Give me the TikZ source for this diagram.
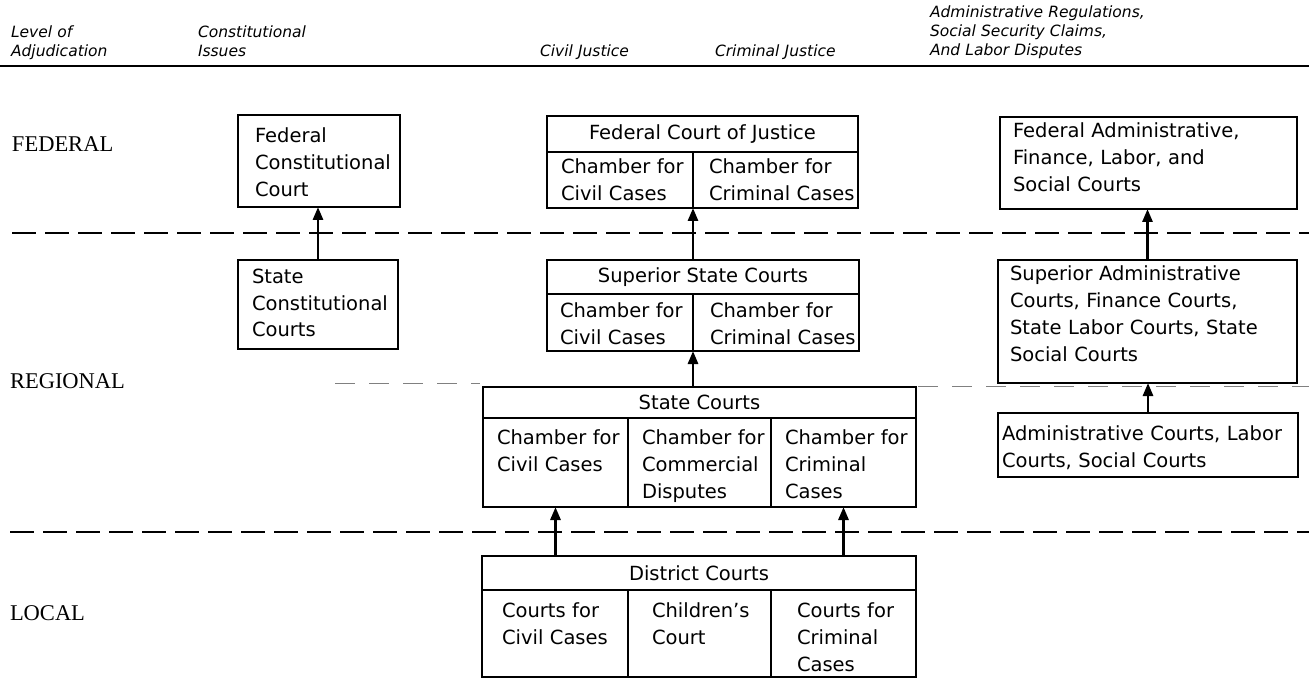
\documentclass[tikz,border=0pt]{standalone}
\usepackage{fontspec}
\setmainfont{DejaVu Sans}
\newfontfamily\lvlfamily{Liberation Serif}
\usetikzlibrary{arrows.meta,calc}
\newcommand\bodyfnt{\fontsize{19.5}{27}\selectfont}
\newcommand\headfnt{\itshape\fontsize{15.5}{19}\selectfont}
\newcommand\levelfnt{\lvlfamily\fontsize{22.5}{26}\selectfont}
\begin{document}
\begin{tikzpicture}[x=1pt,y=-1pt,
  box/.style={draw, line width=2.6pt, rectangle, inner sep=0pt, outer sep=0pt, anchor=north west, font=\bodyfnt},
  txt/.style={anchor=base west, inner sep=0pt, outer sep=0pt, font=\bodyfnt, text width=300pt, align=left},
  hdr/.style={anchor=base west, inner sep=0pt, outer sep=0pt, font=\headfnt, text width=300pt, align=left},
  lvl/.style={anchor=base west, inner sep=0pt, outer sep=0pt, font=\levelfnt},
  arr/.style={line width=2.8pt, -{Triangle[length=13pt,width=10pt]}},
  rule/.style={line width=2.2pt},
  divider/.style={line width=2.2pt, dash pattern=on 24pt off 9pt},
  faint/.style={line width=1pt, gray, dash pattern=on 20pt off 14pt}]
\useasboundingbox (0,0) rectangle (1309,679);

% headers
\node[hdr] (hLevel) at (11,38) {Level of\\Adjudication};
\node[hdr] (hConst) at (198,38) {Constitutional\\Issues};
\node[hdr] (hCivil) at (540,57) {Civil Justice};
\node[hdr] (hCrim) at (715,57) {Criminal Justice};
\node[hdr] (hAdmin) at (930,18) {Administrative Regulations,\\Social Security Claims,\\And Labor Disputes};

% rules
\draw[rule] (0,66) -- (1309,66);
\draw[divider] (12,233) -- (1309,233);
\draw[divider] (10,532) -- (1309,532);
\draw[faint] (335,383) -- (480,383);
\draw[faint] (918,386) -- (1309,386);

% level labels
\node[lvl] (lFed) at (12,152) {FEDERAL};
\node[lvl] (lReg) at (10,388) {REGIONAL};
\node[lvl] (lLoc) at (10,620) {LOCAL};

% constitutional column
\node[box, minimum width=162pt, minimum height=92pt] (fcc) at (238,115) {};
\node[txt] (fccT) at (255,143) {Federal\\Constitutional\\Court};
\node[box, minimum width=160pt, minimum height=89pt] (scc) at (238,260) {};
\node[txt] (sccT) at (252,283) {State\\Constitutional\\Courts};

% federal court of justice
\node[box, minimum width=311pt, minimum height=36pt] (fcjT) at (547,116) {Federal Court of Justice};
\node[box, minimum width=146pt, minimum height=56pt] (fcjL) at (547,152) {};
\node[box, minimum width=165pt, minimum height=56pt] (fcjR) at (693,152) {};
\node[txt] (fcjLt) at (561,174) {Chamber for\\Civil Cases};
\node[txt] (fcjRt) at (709,174) {Chamber for\\Criminal Cases};

% superior state courts
\node[box, minimum width=312pt, minimum height=34pt] (sscT) at (547,260) {Superior State Courts};
\node[box, minimum width=146pt, minimum height=57pt] (sscL) at (547,294) {};
\node[box, minimum width=166pt, minimum height=57pt] (sscR) at (693,294) {};
\node[txt] (sscLt) at (560,317) {Chamber for\\Civil Cases};
\node[txt] (sscRt) at (710,317) {Chamber for\\Criminal Cases};

% state courts
\node[box, minimum width=433pt, minimum height=31pt] (scT) at (483,387) {State Courts};
\node[box, minimum width=145pt, minimum height=89pt] (scL) at (483,418) {};
\node[box, minimum width=143pt, minimum height=89pt] (scM) at (628,418) {};
\node[box, minimum width=145pt, minimum height=89pt] (scR) at (771,418) {};
\node[txt] (scLt) at (497,444) {Chamber for\\Civil Cases};
\node[txt] (scMt) at (642,444) {Chamber for\\Commercial\\Disputes};
\node[txt] (scRt) at (785,444) {Chamber for\\Criminal\\Cases};

% district courts
\node[box, minimum width=434pt, minimum height=34pt] (dcT) at (482,556) {District Courts};
\node[box, minimum width=146pt, minimum height=87pt] (dcL) at (482,590) {};
\node[box, minimum width=143pt, minimum height=87pt] (dcM) at (628,590) {};
\node[box, minimum width=145pt, minimum height=87pt] (dcR) at (771,590) {};
\node[txt] (dcLt) at (502,617) {Courts for\\Civil Cases};
\node[txt] (dcMt) at (652,617) {Children's\\Court};
\node[txt] (dcRt) at (797,617) {Courts for\\Criminal\\Cases};

% administrative column
\node[box, minimum width=297pt, minimum height=92pt] (fad) at (1000,117) {};
\node[txt] (fadT) at (1013,138) {Federal Administrative,\\Finance, Labor, and\\Social Courts};
\node[box, minimum width=299pt, minimum height=123pt] (sad) at (998,260) {};
\node[txt] (sadT) at (1010,280) {Superior Administrative\\Courts, Finance Courts,\\State Labor Courts, State\\Social Courts};
\node[box, minimum width=300pt, minimum height=64pt] (acs) at (998,413) {};
\node[txt] (acsT) at (1002,440) {Administrative Courts, Labor\\Courts, Social Courts};

% arrows
\draw[arr] (scc.north) -- (scc.north |- fcc.south);
\draw[arr] (sscL.north east |- sscT.north) -- (fcjL.south east);
\draw[arr] (sscL.south east |- scT.north) -- (sscL.south east);
\draw[arr] (scL.south |- dcT.north) -- (scL.south);
\draw[arr] (scR.south |- dcT.north) -- (scR.south);
\draw[arr] (sad.north) -- (sad.north |- fad.south);
\draw[arr] (acs.north) -- (acs.north |- sad.south);
\end{tikzpicture}
\end{document}
